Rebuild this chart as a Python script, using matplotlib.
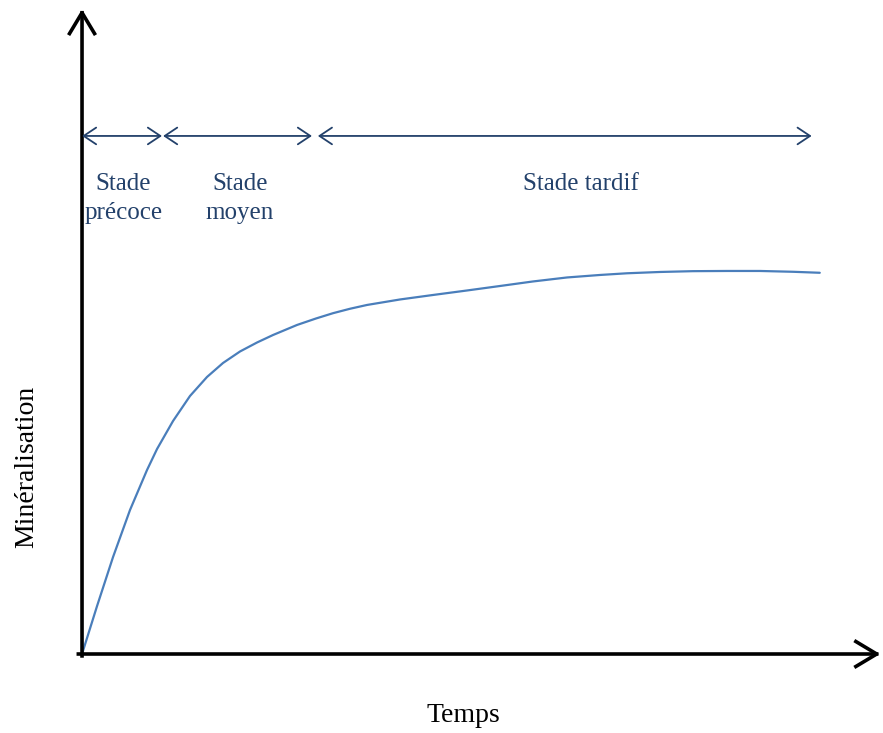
import matplotlib
matplotlib.use("Agg")
import matplotlib.pyplot as plt

# courbe de minéralisation (unités arbitraires)
temps = [0, 2.04, 4.21, 6.51, 8.82, 10.18, 12.35, 14.65, 16.96, 19.13, 21.44,
         23.75, 25.92, 29.17, 31.75, 34.06, 36.36, 38.67, 43.15, 47.63, 52.24,
         56.72, 61.19, 65.81, 70.28, 73.95, 78.43, 82.9, 87.52, 92.0, 96.47,
         100.1]
mineralisation = [0, 12.5, 25.26, 37.5, 47.92, 53.39, 60.68, 67.19, 72.14,
                  75.78, 78.78, 81.12, 83.07, 85.68, 87.37, 88.75, 89.9, 90.89,
                  92.32, 93.49, 94.66, 95.83, 97.01, 98.05, 98.7, 99.14, 99.48,
                  99.69, 99.74, 99.74, 99.53, 99.27]

stades = ["Stade\nprécoce", "Stade\nmoyen", "Stade tardif"]
stade_debut = [0, 11.0, 32.0]
stade_fin = [10.85, 31.2, 99.0]
stade_label_x = [5.6, 21.4, 67.7]

plt.rcParams["font.family"] = ["Liberation Serif", "DejaVu Serif"]
navy = "#23416b"

fig = plt.figure(figsize=(8.83, 7.33), dpi=100)
ax = fig.add_axes([0, 0, 1, 1])
ax.set_xlim(-11.13, 108.68)
ax.set_ylim(-20.57, 170.3)
ax.axis("off")

# axes avec flèches
axis_style = dict(arrowstyle="->, head_length=0.75, head_width=0.45",
                  color="black", lw=2.6, shrinkA=0, shrinkB=0,
                  mutation_scale=20, capstyle="projecting")
ax.annotate("", xy=(0, 167.9), xytext=(0, -0.5), arrowprops=axis_style)
ax.annotate("", xy=(108.3, 0), xytext=(-0.5, 0), arrowprops=axis_style)

ax.plot(temps, mineralisation, color="#4a7ebb", lw=1.6,
        solid_capstyle="round", solid_joinstyle="round")

# stades
y_stade = 134.9
for lab, x0, x1, xl in zip(stades, stade_debut, stade_fin, stade_label_x):
    ax.annotate("", xy=(x1, y_stade), xytext=(x0, y_stade),
                arrowprops=dict(arrowstyle="<->, head_length=0.45, head_width=0.3",
                                color=navy, lw=1.3, shrinkA=0, shrinkB=0,
                                mutation_scale=20))
    ax.text(xl, 125.3, lab, ha="center", va="top", fontsize=18,
            color=navy, linespacing=1.45)

ax.text(51.7, -15.9, "Temps", ha="center", va="center", fontsize=20)
ax.text(-7.5, 48.7, "Minéralisation", ha="center", va="center",
        rotation=90, fontsize=20)

fig.savefig("out.png", dpi=100)
